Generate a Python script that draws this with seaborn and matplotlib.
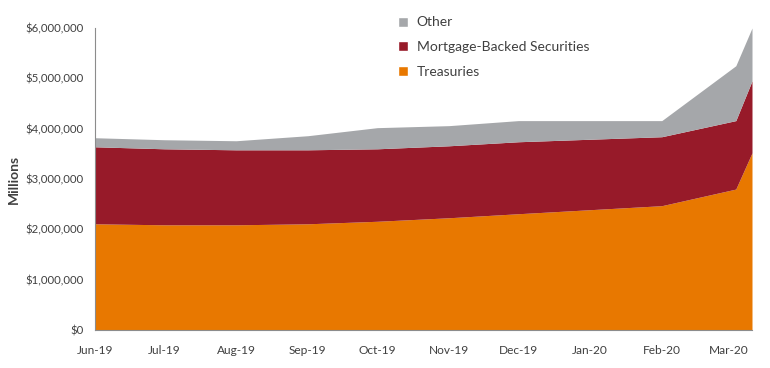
import matplotlib
matplotlib.use("Agg")
import matplotlib.pyplot as plt
from matplotlib.patches import Patch
from matplotlib.ticker import FuncFormatter
import seaborn as sns
import pandas as pd

dates = ["2019-06-01", "2019-07-01", "2019-08-01", "2019-09-01", "2019-10-01",
         "2019-11-01", "2019-12-01", "2020-01-01", "2020-02-01", "2020-03-04", "2020-03-11"]
treasuries = [2110000, 2090000, 2090000, 2110000, 2160000, 2230000, 2310000, 2390000, 2470000, 2800000, 3520000]
mbs = [1530000, 1510000, 1490000, 1470000, 1440000, 1430000, 1430000, 1400000, 1370000, 1360000, 1430000]
other = [180000, 180000, 180000, 280000, 420000, 400000, 420000, 370000, 320000, 1090000, 1050000]
series_names = ["Treasuries", "Mortgage-Backed Securities", "Other"]
tick_labels = ["Jun-19", "Jul-19", "Aug-19", "Sep-19", "Oct-19", "Nov-19",
               "Dec-19", "Jan-20", "Feb-20", "Mar-20"]

colors = ["#E87800", "#971A29", "#A5A7AA"]

sns.set_style("white")
plt.rcParams["font.family"] = ["Lato", "DejaVu Sans"]

df = pd.DataFrame({"date": pd.to_datetime(dates), "Treasuries": treasuries,
                   "Mortgage-Backed Securities": mbs, "Other": other})

fig = plt.figure(figsize=(7.7, 3.68), dpi=100)
ax = fig.add_axes([95 / 770, 38 / 368, (752 - 95) / 770, (330 - 28) / 368])
ax.stackplot(df["date"], df["Treasuries"], df["Mortgage-Backed Securities"], df["Other"],
             colors=colors, linewidth=0)

ax.set_xlim(df["date"].iloc[0], df["date"].iloc[-1])
ax.set_ylim(0, 6000000)
ax.set_yticks(range(0, 6000001, 1000000))
ax.yaxis.set_major_formatter(FuncFormatter(lambda v, p: f"${v:,.0f}"))
tick_dates = pd.date_range("2019-06-01", "2020-03-01", freq="MS")
ax.set_xticks(tick_dates)
ax.set_xticklabels(tick_labels)

sns.despine(ax=ax, top=True, right=True)
for s in ["left", "bottom"]:
    ax.spines[s].set_color("#8C8C8C")
    ax.spines[s].set_linewidth(0.8)
ax.tick_params(axis="both", which="major", direction="out", length=4, width=0.8,
               color="#8C8C8C", labelsize=8.2, labelcolor="#404040", pad=4)
ax.tick_params(axis="x", labelsize=8.6, pad=7)

ax.set_ylabel("Millions", fontsize=10, fontweight="bold", color="#404040")
ax.yaxis.set_label_coords(-0.114, 0.5)

handles = [Patch(facecolor=colors[2], label=series_names[2]),
           Patch(facecolor=colors[1], label=series_names[1]),
           Patch(facecolor=colors[0], label=series_names[0])]
leg = fig.legend(handles=handles, loc="upper left", bbox_to_anchor=(386 / 770, 1 - 4 / 368),
                 frameon=False, fontsize=10, handlelength=0.7, handleheight=0.7,
                 handletextpad=0.6, labelspacing=0.9, labelcolor="#404040")

fig.savefig("out.png", dpi=100)
